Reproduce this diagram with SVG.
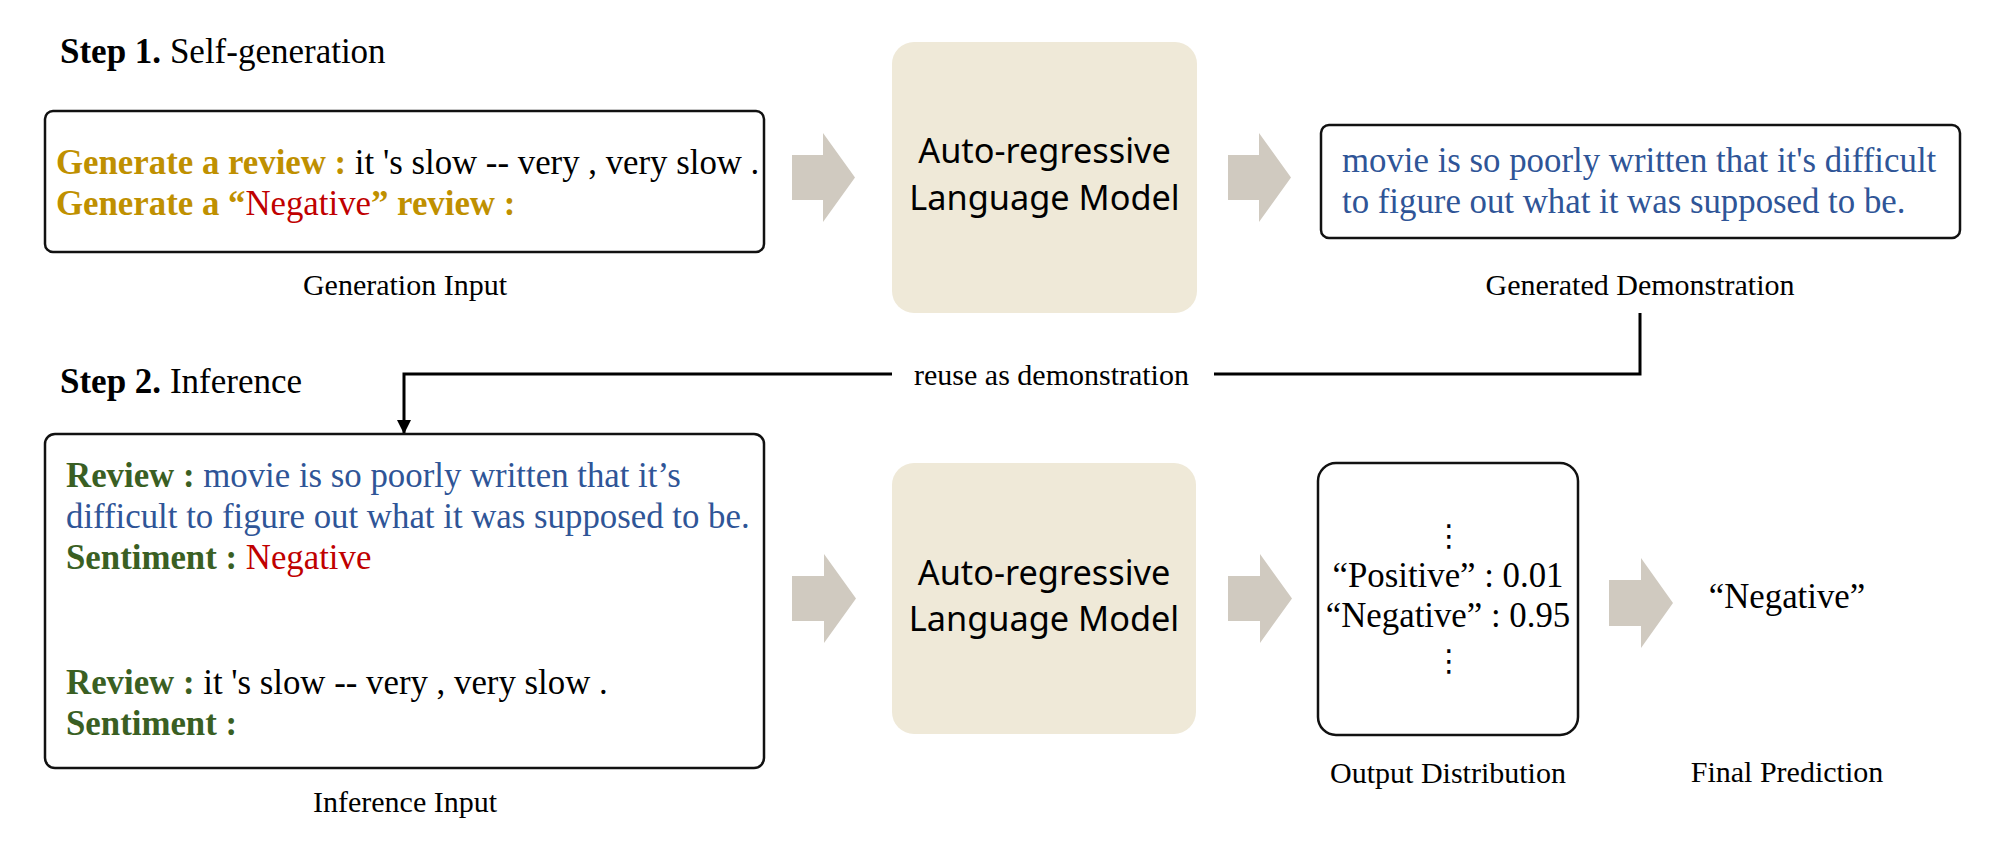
<svg xmlns="http://www.w3.org/2000/svg" width="2000" height="858" viewBox="0 0 2000 858">
<defs>
<style>
.body{font-family:"Liberation Serif","Times New Roman",serif;font-size:34.8px;font-variant-ligatures:none;}
.step{font-family:"Liberation Serif","Times New Roman",serif;font-size:35px;fill:#000;}
.cap{font-family:"Liberation Serif","Times New Roman",serif;font-size:30px;fill:#000;text-anchor:middle;}
.lm{font-family:"Noto Sans","Open Sans",sans-serif;font-size:34.3px;fill:#000;text-anchor:middle;}
.box{fill:#fff;stroke:#111;stroke-width:2.5;}
.lmbox{fill:#EFE9D8;stroke:none;}
.blk{fill:#D0CAC0;stroke:none;}
.gold{fill:#BF9000;font-weight:bold;}
.green{fill:#3A5F23;font-weight:bold;}
.blue{fill:#2F5597;}
.red{fill:#C00000;}
.black{fill:#000;}
.dots{font-family:"Liberation Serif","DejaVu Sans",serif;font-size:30px;fill:#000;text-anchor:middle;}
.conn{fill:none;stroke:#000;stroke-width:3;}
</style>
<marker id="ah" markerUnits="userSpaceOnUse" markerWidth="16" markerHeight="14" refX="14" refY="7" orient="auto">
<path d="M0,0 L14,7 L0,14 Z" fill="#000"/>
</marker>
</defs>
<rect width="2000" height="858" fill="#fff"/>

<g id="step1-title">
<text class="step" x="60" y="63"><tspan font-weight="bold">Step 1.</tspan> Self-generation</text>
</g>

<g id="generation-input">
<rect class="box" x="45" y="111" width="719" height="141" rx="8"/>
<text class="body" x="56" y="174"><tspan class="gold">Generate a review :</tspan><tspan class="black"> it 's slow -- very , very slow .</tspan></text>
<text class="body" x="56" y="215"><tspan class="gold">Generate a “</tspan><tspan class="red">Negative</tspan><tspan class="gold">” review :</tspan></text>
<text class="cap" x="405" y="295">Generation Input</text>
</g>

<g id="arrow1"><polygon class="blk" points="792,155 823,155 823,133 855,177.5 823,222 823,200 792,200"/></g>

<g id="lm1">
<rect class="lmbox" x="892" y="42" width="305" height="271" rx="22"/>
<text class="lm" x="1044.5" y="163">Auto-regressive</text>
<text class="lm" x="1044.5" y="210">Language Model</text>
</g>

<g id="arrow2"><polygon class="blk" points="1228,155 1259,155 1259,133 1291,177.5 1259,222 1259,200 1228,200"/></g>

<g id="generated-demonstration">
<rect class="box" x="1321" y="125" width="639" height="113" rx="8"/>
<text class="body blue" x="1342" y="172">movie is so poorly written that it's difficult</text>
<text class="body blue" x="1342" y="213">to figure out what it was supposed to be.</text>
<text class="cap" x="1640" y="295">Generated Demonstration</text>
</g>

<g id="connectors">
<path class="conn" d="M1640,313 V374 H1214"/>
<path class="conn" d="M892,374 H404 V434" marker-end="url(#ah)"/>
<text class="cap" x="1051.5" y="385">reuse as demonstration</text>
</g>

<g id="step2-title">
<text class="step" x="60" y="393"><tspan font-weight="bold">Step 2.</tspan> Inference</text>
</g>

<g id="inference-input">
<rect class="box" x="45" y="434" width="719" height="334" rx="10"/>
<text class="body" x="66" y="487"><tspan class="green">Review :</tspan><tspan class="blue"> movie is so poorly written that it’s</tspan></text>
<text class="body blue" x="66" y="528">difficult to figure out what it was supposed to be.</text>
<text class="body" x="66" y="569"><tspan class="green">Sentiment :</tspan><tspan class="red"> Negative</tspan></text>
<text class="body" x="66" y="694"><tspan class="green">Review :</tspan><tspan class="black"> it 's slow -- very , very slow .</tspan></text>
<text class="body" x="66" y="735"><tspan class="green">Sentiment :</tspan></text>
<text class="cap" x="405" y="812">Inference Input</text>
</g>

<g id="arrow3"><polygon class="blk" points="792,576 824,576 824,554 856,598.5 824,643 824,621 792,621"/></g>

<g id="lm2">
<rect class="lmbox" x="892" y="463" width="304" height="271" rx="22"/>
<text class="lm" x="1044" y="585">Auto-regressive</text>
<text class="lm" x="1044" y="631">Language Model</text>
</g>

<g id="arrow4"><polygon class="blk" points="1228,576 1260,576 1260,554 1292,598.5 1260,643 1260,621 1228,621"/></g>

<g id="output-distribution">
<rect class="box" x="1318" y="463" width="260" height="272" rx="18"/>
<text class="dots" x="1449" y="546">⋮</text>
<text class="body black" x="1448" y="587" text-anchor="middle">“Positive” : 0.01</text>
<text class="body black" x="1448" y="627" text-anchor="middle">“Negative” : 0.95</text>
<text class="dots" x="1449" y="671">⋮</text>
<text class="cap" x="1448" y="783">Output Distribution</text>
</g>

<g id="arrow5"><polygon class="blk" points="1609,580 1641,580 1641,558 1673,603 1641,648 1641,626 1609,626"/></g>

<g id="final-prediction">
<text class="body black" x="1787" y="608" text-anchor="middle">“Negative”</text>
<text class="cap" x="1787" y="782">Final Prediction</text>
</g>
</svg>
